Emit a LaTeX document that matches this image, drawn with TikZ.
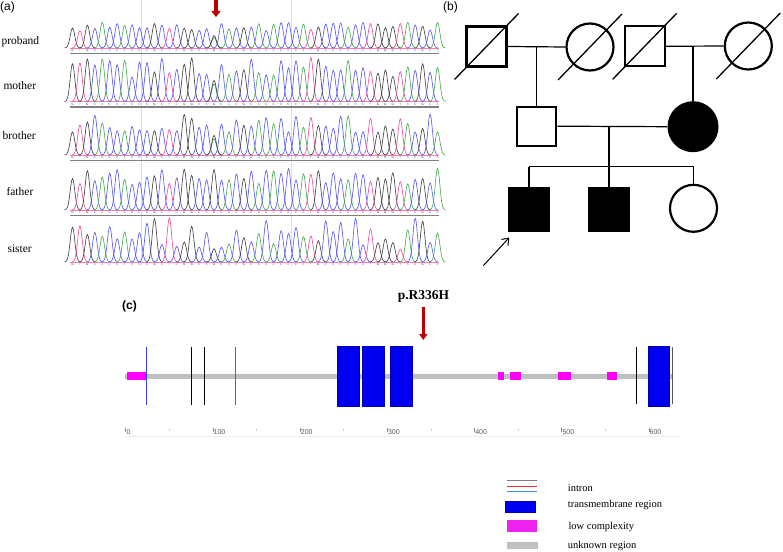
\documentclass[tikz,border=0pt]{standalone}
\usepackage{fontspec}
\setmainfont{Liberation Serif}
\setsansfont{Liberation Sans}
\usetikzlibrary{arrows.meta,calc}
\definecolor{colA}{HTML}{3FA64A}
\definecolor{colC}{HTML}{5252F2}
\definecolor{colG}{HTML}{3A3A3A}
\definecolor{colT}{HTML}{F0469A}
\definecolor{darkred}{HTML}{C00000}
\definecolor{guide}{HTML}{C4E6F8}
\definecolor{tmblue}{HTML}{0000F0}
\definecolor{lowmag}{HTML}{FF00FF}
\definecolor{legmag}{HTML}{EE22EE}
\definecolor{unkgray}{HTML}{C0C0C0}
\definecolor{intronred}{HTML}{E83030}
\definecolor{intronblue}{HTML}{4A90E2}
\definecolor{lineblue}{HTML}{4040FF}
\def\seq{G,T,G,C,A,C,C,A,C,C,C,G,C,T,C,G,G,C,C,G,C,A,C,G,C,A,C,A,C,C,C,A,T,G,C,C,C,A,C,C,T,G,G,G,T,A,C,G,C,A}
\tikzset{
  rowlabel/.style={anchor=west,font=\fontsize{11.5}{13}\selectfont},
  panellabel/.style={anchor=west,font=\sffamily\fontsize{12}{14}\selectfont,inner sep=0},
  sq/.style={draw,line width=2.2pt,minimum size=40pt,inner sep=0},
  ci/.style={draw,circle,line width=2.2pt,minimum size=47pt,inner sep=0},
  filledsq/.style={fill=black,minimum width=42pt,minimum height=45pt,inner sep=0},
  link/.style={line width=1.2pt},
  slash/.style={line width=1.3pt},
  redarrow/.style={darkred,line width=3.5pt,-{Triangle[length=6pt,width=9pt]}},
  tmbox/.style={fill=tmblue,draw=blue!70!black,line width=0.5pt},
  intronline/.style={line width=1pt},
  legtext/.style={anchor=west,font=\fontsize{10.5}{12}\selectfont,inner sep=0},
  axlab/.style={anchor=west,font=\sffamily\fontsize{7}{8}\selectfont,text=black!65,inner sep=0},
}
\begin{document}
\begin{tikzpicture}[x=1pt,y=-1pt]
\useasboundingbox (0,0) rectangle (783,551);
\fill[white] (0,0) rectangle (783,551);

% ---------------- panel (a) ----------------
\node[panellabel] (la) at (0,7.5) {(a)};
\draw[guide,line width=0.9pt] (141,0) -- (141,266);
\draw[guide,line width=0.9pt] (291,0) -- (291,266);
\coordinate (aa1) at (216,0);
\coordinate (aa2) at (216,17);
\draw[redarrow] (aa1) -- (aa2);

\node[rowlabel] (lp) at (-2,42) {proband};
\node[rowlabel] (lm) at (0,86) {mother};
\node[rowlabel] (lb) at (-1,136) {brother};
\node[rowlabel] (lf) at (3,191.5) {father};
\node[rowlabel] (ls) at (4,248.5) {sister};

\foreach \yb/\amp/\var/\mut/\seed/\gl in {48/26/0.35/1/11/1, 101.5/44/0.45/1/22/1, 155/41/0.45/1/33/1, 210/42/0.4/0/44/1, 262/44/0.72/0/55/0} {
  \pgfmathsetseed{\seed}
  \draw[colT!70,line width=0.6pt] (70,\yb) -- (439,\yb);
  \ifnum\gl=1
    \draw[black!50,line width=1.6pt] (70,\yb+5.5) -- (439,\yb+5.5);
  \fi
  \foreach \b [count=\i from 0] in \seq {
    \pgfmathsetmacro\cx{72.5+7.45*\i}
    \pgfmathsetmacro\cxa{\cx-8}
    \pgfmathsetmacro\cxb{\cx+8}
    \pgfmathsetmacro\h{\amp*(1-\var*rnd)}
    \edef\cc{col\b}
    \ifnum\mut=1 \ifnum\i=19
        \pgfmathsetmacro\hg{\amp*0.48}
        \pgfmathsetmacro\ha{\amp*0.40}
        \draw[color=colA,line width=0.6pt] plot[domain=\cxa:\cxb,samples=17,smooth] (\x,{\yb-\ha*exp(-((\x-\cx)^2)/10.6)});
        \draw[color=colG,line width=0.6pt] plot[domain=\cxa:\cxb,samples=17,smooth] (\x,{\yb-\hg*exp(-((\x-\cx)^2)/10.6)});
      \else
        \draw[color=\cc,line width=0.6pt] plot[domain=\cxa:\cxb,samples=17,smooth] (\x,{\yb-\h*exp(-((\x-\cx)^2)/10.6)});
      \fi
    \else
      \draw[color=\cc,line width=0.6pt] plot[domain=\cxa:\cxb,samples=17,smooth] (\x,{\yb-\h*exp(-((\x-\cx)^2)/10.6)});
    \fi
    \node[font=\sffamily\fontsize{3}{3}\selectfont,text=\cc,inner sep=0] at (\cx,\yb+2.8) {\b};
  }
}

% ---------------- panel (b) ----------------
\node[panellabel] (lbb) at (443,7) {(b)};
\node[sq] (I1) at (486.5,46.5) {};
\node[ci] (I2) at (590,47) {};
\node[sq] (I3) at (644.7,46.3) {};
\node[ci] (I4) at (748.3,46) {};
\node[sq,minimum size=39pt] (II1) at (536.7,126.2) {};
\node[circle,fill=black,minimum size=51pt,inner sep=0] (II2) at (693,126.7) {};
\node[filledsq] (III1) at (529,209.8) {};
\node[filledsq] (III2) at (609,209.8) {};
\node[ci] (III3) at (693.5,208.3) {};

\foreach \n in {I1,I2,I3,I4}
  \draw[slash] ([shift={(-32,33)}]\n.center) -- ([shift={(32,-33)}]\n.center);

\draw[link] (I1.east) -- (I2.west);
\coordinate (m1) at (II1.north |- I1.east);
\draw[link] (m1) -- (II1.north);
\draw[link] (I3.east) -- (I4.west);
\coordinate (m2) at (II2.north |- I3.east);
\draw[link] (m2) -- (II2.north);
\draw[link] (II1.east) -- (II2.west);
\coordinate (m3) at (III2.north |- II1.east);
\coordinate (s1) at (529,166.7);
\coordinate (s2) at (III2.north |- s1);
\coordinate (s3) at (III3.north |- s1);
\draw[link] (m3) -- (s2);
\draw[link] (s1) -- (s3);
\draw[link] (s1) -- (III1.north);
\draw[link] (s2) -- (III2.north);
\draw[link] (s3) -- (III3.north);
\coordinate (pa) at (483.3,265.7);
\draw[line width=1pt,-{Straight Barb[length=6pt,width=9pt]}] (pa) -- ([shift={(1.5,5)}]III1.south west);

% ---------------- panel (c) ----------------
\node[panellabel,font=\sffamily\bfseries\fontsize{12}{14}\selectfont] (lc) at (122,306) {(c)};
\node[font=\bfseries\fontsize{13.5}{15}\selectfont,inner sep=0] (mutlab) at (423.5,296.5) {p.R336H};
\coordinate (ca1) at (423.3,306.5);
\coordinate (ca2) at (423.3,340);
\draw[redarrow,line width=3pt,-{Triangle[length=6pt,width=8pt]}] (ca1) -- (ca2);

\fill[unkgray] (125,374) rectangle (672,378.7);
\fill[lowmag] (127.3,372) rectangle (146,380);
\foreach \a/\b in {498.3/504.3,510/521,558/570.7,607.3/617}
  \fill[lowmag] (\a,372.3) rectangle (\b,380);
\draw[lineblue,line width=1pt] (146.7,346.7) -- (146.7,405);
\draw[black,line width=0.9pt] (191,346.7) -- (191,405);
\draw[black,line width=0.9pt] (204.3,346.7) -- (204.3,405);
\draw[intronred,line width=1pt] (235.7,346.7) -- (235.7,405);
\draw[black,line width=0.9pt] (636.3,347.3) -- (636.3,404.3);
\draw[black!65,line width=1pt] (672.7,347.3) -- (672.7,404.3);
\foreach \a/\b in {337.3/359,362.7/384.3,390.7/412.3,648.3/669.3}
  \draw[tmbox] (\a,346) rectangle (\b,406);

\draw[black!7,line width=0.6pt] (125,436) -- (680,436);
\foreach \k in {0,...,6} {
  \pgfmathsetmacro\tx{125.5+87.2*\k}
  \pgfmathtruncatemacro\tv{100*\k}
  \draw[black!45,line width=0.4pt] (\tx,427.5) -- (\tx,431.5);
  \node[axlab] at (\tx+0.8,432) {\tv};
}
\foreach \k in {0,...,5} {
  \pgfmathsetmacro\tx{125.5+43.6+87.2*\k}
  \draw[black!20,line width=0.4pt] (\tx,429) -- (\tx,431);
}

% legend
\draw[black!50,line width=1.3pt] (506.7,480.7) -- (536.7,480.7);
\draw[intronline,intronred] (506.7,486.3) -- (536.7,486.3);
\draw[intronline,intronblue] (506.7,491.3) -- (536.7,491.3);
\node[legtext] (t1) at (567.7,488.3) {intron};
\draw[tmbox] (505.7,501) rectangle (535.3,512.7);
\node[legtext] (t2) at (567.7,505) {transmembrane region};
\fill[legmag] (506.7,520) rectangle (536.7,532);
\node[legtext] (t3) at (568.3,526.7) {low complexity};
\fill[unkgray] (506.7,542.3) rectangle (537.7,548.7);
\node[legtext] (t4) at (567.7,545.7) {unknown region};
\end{tikzpicture}
\end{document}
